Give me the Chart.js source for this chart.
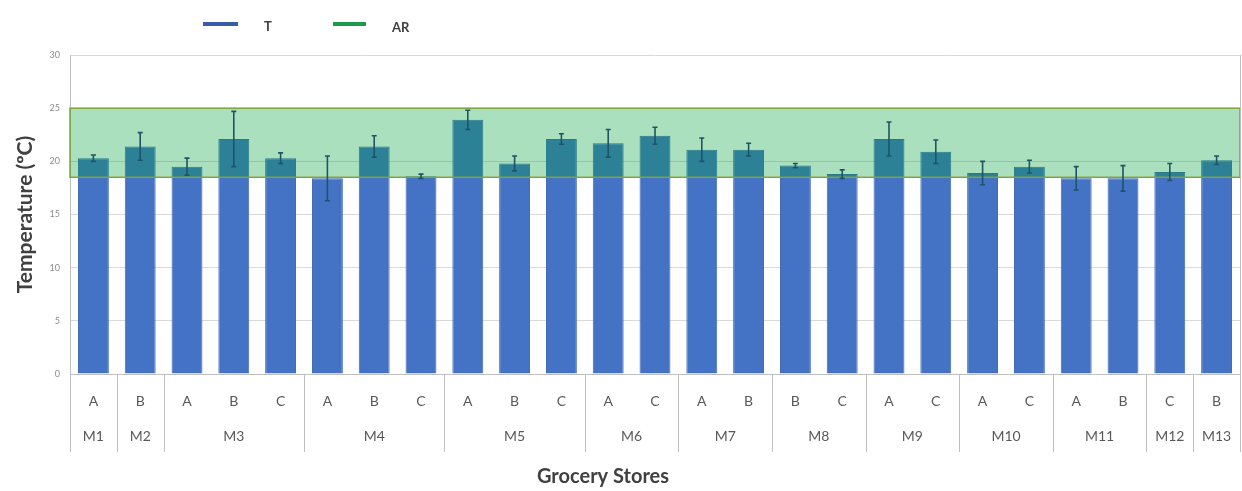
<!DOCTYPE html>
<html>
<head>
<meta charset="utf-8">
<script src="https://cdn.jsdelivr.net/npm/chart.js@4.4.1/dist/chart.umd.min.js"></script>
<style>
  html, body { margin: 0; padding: 0; background: #fff; }
  #wrap { width: 1242px; height: 491px; position: relative; }
</style>
</head>
<body>
<div id="wrap"><canvas id="tempChart"></canvas></div>
<script>
// store / unit for each bar
const stores = ['M1','M2','M3','M3','M3','M4','M4','M4','M5','M5','M5','M6','M6',
                'M7','M7','M8','M8','M9','M9','M10','M10','M11','M11','M12','M13'];
const units  = ['A','B','A','B','C','A','B','C','A','B','C','A','C',
                'A','B','B','C','A','C','A','C','A','B','C','B'];

// mean temperature (ºC) and its deviation
const tMean = [20.3, 21.4, 19.5, 22.1, 20.3, 18.4, 21.4, 18.6, 23.9, 19.8, 22.1, 21.7, 22.4,
               21.1, 21.1, 19.6, 18.8, 22.1, 20.9, 18.9, 19.5, 18.4, 18.4, 19.0, 20.1];
const tErr  = [0.3, 1.3, 0.8, 2.6, 0.5, 2.1, 1.0, 0.2, 0.9, 0.7, 0.5, 1.3, 0.8,
               1.1, 0.6, 0.2, 0.4, 1.6, 1.1, 1.1, 0.6, 1.1, 1.2, 0.8, 0.4];

// acceptable range (AR)
const arRange = [18.5, 25];
const yTicks = [0, 5, 10, 15, 20, 25, 30];

const blue = '#4472C4';
const arFill = 'rgba(0, 160, 60, 0.33)';
const arLine = '#7FA53A';
const errColor = '#1F5468';
const sepColor = '#BFBFBF';
const labelColor = '#595959';
const fontFam = 'Lato, "Open Sans", sans-serif';

// band, error bars, store groups and legend
const extras = {
  id: 'extras',
  afterDatasetsDraw(chart) {
    const {ctx, chartArea: a, scales: {x, y}} = chart;
    ctx.save();

    // AR band over the bars
    const yTop = y.getPixelForValue(arRange[1]);
    const yBot = y.getPixelForValue(arRange[0]);
    ctx.fillStyle = arFill;
    ctx.fillRect(a.left, yTop, a.right - a.left, yBot - yTop);
    ctx.strokeStyle = arLine;
    ctx.lineWidth = 1.5;
    ctx.strokeRect(a.left, yTop, a.right - a.left, yBot - yTop);

    // error bars
    const meta = chart.getDatasetMeta(0);
    ctx.strokeStyle = errColor;
    ctx.lineWidth = 1.6;
    tMean.forEach((v, i) => {
      const cx = meta.data[i].x;
      const hi = y.getPixelForValue(v + tErr[i]);
      const lo = y.getPixelForValue(v - tErr[i]);
      ctx.beginPath();
      ctx.moveTo(cx, hi); ctx.lineTo(cx, lo);
      ctx.moveTo(cx - 2.5, hi); ctx.lineTo(cx + 2.5, hi);
      ctx.moveTo(cx - 2.5, lo); ctx.lineTo(cx + 2.5, lo);
      ctx.stroke();
    });
    ctx.restore();
  },
  afterDraw(chart) {
    const {ctx, chartArea: a, scales: {x}} = chart;
    ctx.save();
    const sepBottom = 452;
    const half = (x.getPixelForValue(1) - x.getPixelForValue(0)) / 2;

    // group separators + store names
    ctx.strokeStyle = sepColor;
    ctx.lineWidth = 1;
    ctx.font = '14px ' + fontFam;
    ctx.fillStyle = labelColor;
    ctx.textAlign = 'center';
    ctx.textBaseline = 'middle';
    let start = 0;
    for (let i = 1; i <= stores.length; i++) {
      if (i === stores.length || stores[i] !== stores[start]) {
        const left = x.getPixelForValue(start) - half;
        const right = x.getPixelForValue(i - 1) + half;
        ctx.fillText(stores[start], (left + right) / 2, 436);
        start = i;
      }
    }
    const edges = [a.left];
    for (let i = 1; i < stores.length; i++) {
      if (stores[i] !== stores[i - 1]) edges.push(x.getPixelForValue(i) - half);
    }
    edges.push(a.right);
    edges.forEach(ex => {
      const px = Math.round(ex) + 0.5;
      ctx.beginPath();
      ctx.moveTo(px, a.bottom);
      ctx.lineTo(px, sepBottom);
      ctx.stroke();
    });
    // right edge of the plot
    ctx.beginPath();
    ctx.moveTo(Math.round(a.right) + 0.5, a.top);
    ctx.lineTo(Math.round(a.right) + 0.5, a.bottom);
    ctx.stroke();

    // x axis title
    ctx.font = 'bold 20px ' + fontFam;
    ctx.fillStyle = '#404040';
    ctx.fillText('Grocery Stores', 603, 477);

    // legend
    ctx.font = 'bold 13px ' + fontFam;
    ctx.textAlign = 'left';
    ctx.fillStyle = '#3A5BA8';
    ctx.fillRect(203, 22, 35, 4);
    ctx.fillStyle = '#1E9A48';
    ctx.fillRect(333, 22, 33, 4);
    ctx.fillStyle = '#404040';
    ctx.fillText('T', 264, 27);
    ctx.fillText('AR', 392, 28);
    ctx.restore();
  }
};

new Chart(document.getElementById('tempChart'), {
  type: 'bar',
  data: {
    labels: units,
    datasets: [{
      label: 'T',
      data: tMean,
      backgroundColor: blue,
      borderColor: '#3D66B0',
      borderWidth: 1,
      barPercentage: 1,
      categoryPercentage: 0.66
    }]
  },
  options: {
    responsive: true,
    maintainAspectRatio: false,
    animation: false,
    layout: { padding: { left: 0, top: 55, right: 2, bottom: 0 } },
    plugins: {
      legend: { display: false },
      tooltip: { enabled: false }
    },
    scales: {
      x: {
        grid: { display: false },
        border: { display: true, color: sepColor },
        ticks: { color: labelColor, font: { size: 14, family: fontFam }, padding: 11, autoSkip: false, maxRotation: 0 },
        afterFit(s) { s.height = 117; }
      },
      y: {
        min: 0,
        max: 30,
        afterBuildTicks(s) { s.ticks = yTicks.map(v => ({ value: v })); },
        grid: { color: '#D9D9D9', drawTicks: false },
        border: { display: true, color: sepColor },
        ticks: { color: '#8C8C8C', font: { size: 9, family: fontFam }, padding: 10 },
        title: {
          display: true,
          text: 'Temperature (ºC)',
          color: '#404040',
          font: { size: 21, weight: 'bold', family: fontFam },
          padding: { top: 13, bottom: 0 }
        },
        afterFit(s) { s.width = 70; }
      }
    }
  },
  plugins: [extras]
});
</script>
</body>
</html>
